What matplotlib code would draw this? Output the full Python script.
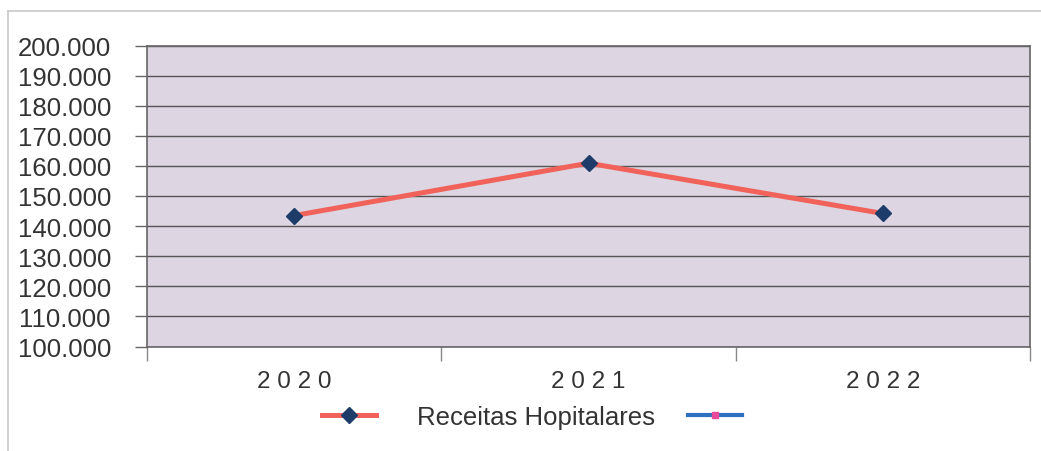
import numpy as np
import matplotlib.pyplot as plt
from matplotlib.lines import Line2D

# dados do gráfico
anos = ['2020', '2021', '2022']
receitas = [143500, 160900, 144200]
serie_vazia = [np.nan, np.nan, np.nan]
y_ticks = list(range(100000, 200001, 10000))

plt.rcParams['font.family'] = ['Liberation Sans', 'DejaVu Sans']

fig = plt.figure(figsize=(10.41, 4.52), dpi=100)
ax = fig.add_axes([147 / 1041, 1 - 347.5 / 452, (1030 - 147) / 1041, (347.5 - 46.5) / 452])

# moldura externa (cinza claro)
fig.add_artist(Line2D([8 / 1041, 1.0], [1 - 12 / 452] * 2, color='#c8c8c8', lw=1.2))
fig.add_artist(Line2D([8 / 1041] * 2, [1 - 12 / 452, 0.0], color='#c8c8c8', lw=1.2))

ax.set_facecolor('#ddd5e1')
x = np.arange(len(anos))

ax.plot(x, receitas, color='#f0625a', lw=3.6, marker='D', markersize=8,
        markerfacecolor='#1d3c6a', markeredgecolor='#1d3c6a', label='Receitas Hopitalares',
        zorder=3)
ax.plot(x, serie_vazia, color='#2f6fc0', lw=3.0, marker='s', markersize=5,
        markerfacecolor='#e8489a', markeredgecolor='#e8489a', label=' ')

ax.set_xlim(-0.5, len(anos) - 0.5)
ax.set_ylim(y_ticks[0], y_ticks[-1])
ax.set_yticks(y_ticks)
ax.set_yticklabels([f'{v:,}'.replace(',', '.') for v in y_ticks], fontsize=18.5, color='#333333')
ax.set_xticks(x)
ax.set_xticklabels([' '.join(a) for a in anos], fontsize=17.5, color='#333333')
ax.set_xticks(np.arange(-0.5, len(anos)), minor=True)

ax.tick_params(axis='y', direction='out', length=9, width=1, color='#666666', pad=17)
ax.tick_params(axis='x', which='major', length=0, pad=17)
ax.tick_params(axis='x', which='minor', direction='out', length=10, width=1, color='#888888')

ax.grid(axis='y', color='#555555', lw=1.0)
ax.set_axisbelow(True)
for s in ax.spines.values():
    s.set_color('#666666')
    s.set_linewidth(1.2)

fig.legend(loc='center', bbox_to_anchor=(556 / 1041, 1 - 418 / 452), ncol=2, frameon=False,
           fontsize=18.5, handlelength=2.1, handletextpad=1.6, columnspacing=1.3,
           labelcolor='#333333')

fig.savefig('out.png', dpi=100, facecolor='white')
